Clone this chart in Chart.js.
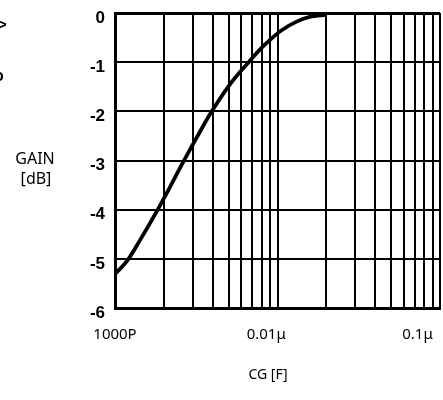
<!DOCTYPE html>
<html>
<head>
<meta charset="utf-8">
<script src="https://cdn.jsdelivr.net/npm/chart.js@4/dist/chart.umd.min.js"></script>
<style>
  html, body { margin: 0; padding: 0; background: #fff; overflow: hidden; }
  canvas { display: block; }
</style>
</head>
<body>
<canvas id="gainChart" width="443" height="400"></canvas>
<script>
// capacitance in pF, gain in dB
const capPF = [1000, 1200, 1420, 1810, 2180, 2620, 3200, 3840, 5100, 6770, 8140, 9250, 10500, 13200, 15800, 20000];
const gainDB = [-5.31, -5.02, -4.63, -4.03, -3.54, -3.04, -2.52, -2.06, -1.45, -0.97, -0.68, -0.51, -0.36, -0.17, -0.08, -0.04];

// log grid: 1000P .. 0.1u
const gridPF = [1000, 2000, 3000, 4000, 5000, 6000, 7000, 8000, 9000,
                10000, 20000, 30000, 40000, 50000, 60000, 70000, 80000, 90000, 100000];
const labelPF = [1000, 10000, 100000];
// trailing en spaces pull the labels left like on the scan
const labelText = ['1000P', '0.01\u03bc\u2002\u2002\u2002', '0.1\u03bc\u2002\u2002\u2002\u2002\u2002\u2002'];
const gainTicks = [0, -1, -2, -3, -4, -5, -6];

// texts that sit outside the axes
const sideText = {
  id: 'sideText',
  afterDraw(chart) {
    let ctx = chart.ctx;
    ctx.save();
    ctx.fillStyle = '#000';
    ctx.textAlign = 'center';
    ctx.textBaseline = 'middle';
    ctx.font = '16px "Noto Sans"';
    ctx.fillText('GAIN', 35, 159);
    ctx.fillText('[dB]', 36, 179);
    ctx.font = '14px "Noto Sans"';
    ctx.fillText('CG [F]', 268, 375);
    ctx.font = 'bold 16px "Liberation Sans"';
    ctx.fillText('>', 2, 26);
    ctx.fillText('o', -1, 77);
    ctx.restore();
  }
};

const data = {
  datasets: [{
    data: capPF.map((c, i) => ({ x: c, y: gainDB[i] })),
    borderColor: '#000',
    borderWidth: 3.8,
    pointRadius: 0,
    fill: false,
    cubicInterpolationMode: 'monotone'
  }]
};

const config = {
  type: 'line',
  data: data,
  options: {
    responsive: false,
    animation: false,
    layout: { padding: { top: 13, right: 3, left: 0, bottom: 0 } },
    scales: {
      x: {
        type: 'logarithmic',
        min: 1000,
        max: 100000,
        afterBuildTicks: s => { s.ticks = gridPF.map(v => ({ value: v })); },
        afterFit: s => { s.height = 92; s.paddingLeft = 0; s.paddingRight = 0; },
        grid: {
          color: '#000',
          lineWidth: 2,
          drawTicks: false
        },
        border: { color: '#000', width: 3 },
        ticks: {
          autoSkip: false,
          maxRotation: 0,
          padding: 18,
          color: '#000',
          font: { family: 'Noto Sans', size: 15 },
          callback: v => {
            let k = labelPF.indexOf(v);
            return k >= 0 ? labelText[k] : '';
          }
        }
      },
      y: {
        min: -6,
        max: 0,
        afterBuildTicks: s => { s.ticks = gainTicks.map(v => ({ value: v })); },
        afterFit: s => { s.width = 115; s.paddingTop = 0; s.paddingBottom = 0; },
        grid: {
          color: '#000',
          lineWidth: ctx => (ctx.tick && ctx.tick.value === 0) ? 3 : 2,
          drawTicks: false
        },
        border: { color: '#000', width: 3 },
        ticks: {
          padding: 10,
          labelOffset: 5,
          color: '#000',
          font: { family: 'Liberation Sans', size: 17, weight: 'bold' },
          callback: v => String(v)
        }
      }
    },
    plugins: {
      legend: { display: false },
      tooltip: { enabled: false }
    }
  },
  plugins: [sideText]
};

let gainChart = new Chart(document.getElementById('gainChart'), config);
</script>
</body>
</html>
